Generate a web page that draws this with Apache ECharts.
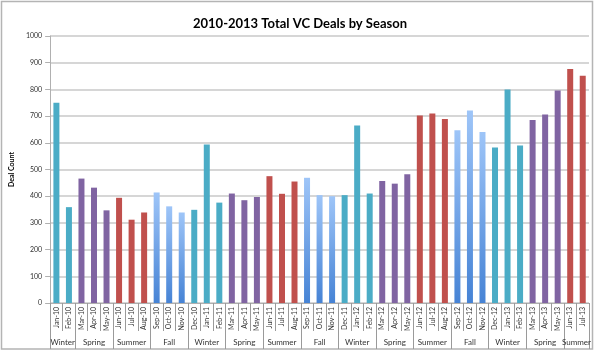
<!DOCTYPE html>
<html>
<head>
<meta charset="utf-8">
<script src="https://cdn.jsdelivr.net/npm/echarts@6/dist/echarts.min.js"></script>
<style>
html,body{margin:0;padding:0;background:#fff;}
#c{width:600px;height:352px;}
</style>
</head>
<body>
<div id="c"></div>
<script>
var months = ['Jan-10','Feb-10','Mar-10','Apr-10','May-10','Jun-10','Jul-10','Aug-10','Sep-10','Oct-10','Nov-10',
  'Dec-10','Jan-11','Feb-11','Mar-11','Apr-11','May-11','Jun-11','Jul-11','Aug-11','Sep-11','Oct-11','Nov-11',
  'Dec-11','Jan-12','Feb-12','Mar-12','Apr-12','May-12','Jun-12','Jul-12','Aug-12','Sep-12','Oct-12','Nov-12',
  'Dec-12','Jan-13','Feb-13','Mar-13','Apr-13','May-13','Jun-13','Jul-13'];
var dealCounts = [750,359,466,432,347,394,312,339,414,362,339,
  349,594,376,410,385,397,475,409,455,469,404,400,
  404,665,410,457,447,482,702,710,689,647,721,640,
  582,800,590,685,706,796,876,851];
var seasonNames = ['Winter','Spring','Summer','Fall','Winter','Spring','Summer','Fall','Winter','Spring','Summer','Fall','Winter','Spring','Summer'];
var seasonSpans = [2,3,3,3,3,3,3,3,3,3,3,3,3,3,2];
var yTicks = [0,100,200,300,400,500,600,700,800,900,1000];

var seasonColors = {
  Winter: '#4BACC6',
  Spring: '#8064A2',
  Summer: '#C0504D',
  Fall: {type:'linear',x:0,y:0,x2:0,y2:1,colorStops:[{offset:0,color:'#9EC5F8'},{offset:1,color:'#4683D5'}]}
};

var monthSeason = [];
var seasonAxisData = [];
for (var k = 0; k <= months.length * 2; k++) seasonAxisData.push('');
var boundaries = {};
var start = 0;
for (var g = 0; g < seasonNames.length; g++) {
  var n = seasonSpans[g];
  for (var m = 0; m < n; m++) monthSeason.push(seasonNames[g]);
  boundaries[2 * start] = true;
  seasonAxisData[2 * start + n] = seasonNames[g];
  start += n;
}
boundaries[2 * start] = true;

var barData = dealCounts.map(function (v, i) {
  return { value: v, itemStyle: { color: seasonColors[monthSeason[i]] } };
});

var font = 'Lato, "Open Sans", sans-serif';
var chart = echarts.init(document.getElementById('c'), null, {renderer: 'canvas'});
chart.setOption({
  animation: false,
  backgroundColor: '#fff',
  textStyle: { fontFamily: font },
  title: {
    text: '2010-2013 Total VC Deals by Season',
    left: 'center',
    top: 12,
    textStyle: { fontFamily: font, fontSize: 13, fontWeight: 'bold', color: '#000' }
  },
  graphic: [{
    type: 'rect', silent: true, z: -1,
    shape: { x: 1.5, y: 1.5, width: 591, height: 347.5 },
    style: { fill: 'none', stroke: '#b4b4b4', lineWidth: 1.5 }
  }],
  grid: { left: 45, right: 11, top: 36, bottom: 49, containLabel: false },
  xAxis: [{
    type: 'category',
    data: months,
    position: 'bottom',
    axisLine: { show: true, lineStyle: { color: '#b0b0b0', width: 1 } },
    axisTick: { show: true, interval: 0, length: 28, lineStyle: { color: '#9a9a9a', width: 1 } },
    axisLabel: { interval: 0, rotate: 90, margin: 4, fontSize: 7, color: '#333', fontFamily: font, hideOverlap: false },
    splitLine: { show: false }
  }, {
    type: 'category',
    data: seasonAxisData,
    boundaryGap: false,
    position: 'bottom',
    axisLine: { show: false },
    axisTick: {
      show: true, length: 46,
      interval: function (index) { return !!boundaries[index]; },
      lineStyle: { color: '#9a9a9a', width: 1 }
    },
    axisLabel: { interval: 0, margin: 35, fontSize: 8, color: '#333', fontFamily: font },
    splitLine: { show: false }
  }],
  yAxis: {
    type: 'value',
    min: yTicks[0],
    max: yTicks[yTicks.length - 1],
    interval: 100,
    name: 'Deal Count',
    nameLocation: 'middle',
    nameGap: 27,
    nameTextStyle: { fontSize: 7, fontWeight: 'bold', color: '#000', fontFamily: font },
    axisLine: { show: true, lineStyle: { color: '#b0b0b0', width: 1 } },
    axisTick: { show: true, inside: false, length: 5, lineStyle: { color: '#b0b0b0' } },
    axisLabel: { fontSize: 7, color: '#333', margin: 8, fontFamily: font, formatter: function (v) { return String(v); } },
    splitLine: { show: true, lineStyle: { color: '#c8c8c8', width: 1.5 } }
  },
  series: [{
    type: 'bar',
    xAxisIndex: 0,
    data: barData,
    barWidth: 6
  }]
});
</script>
</body>
</html>
